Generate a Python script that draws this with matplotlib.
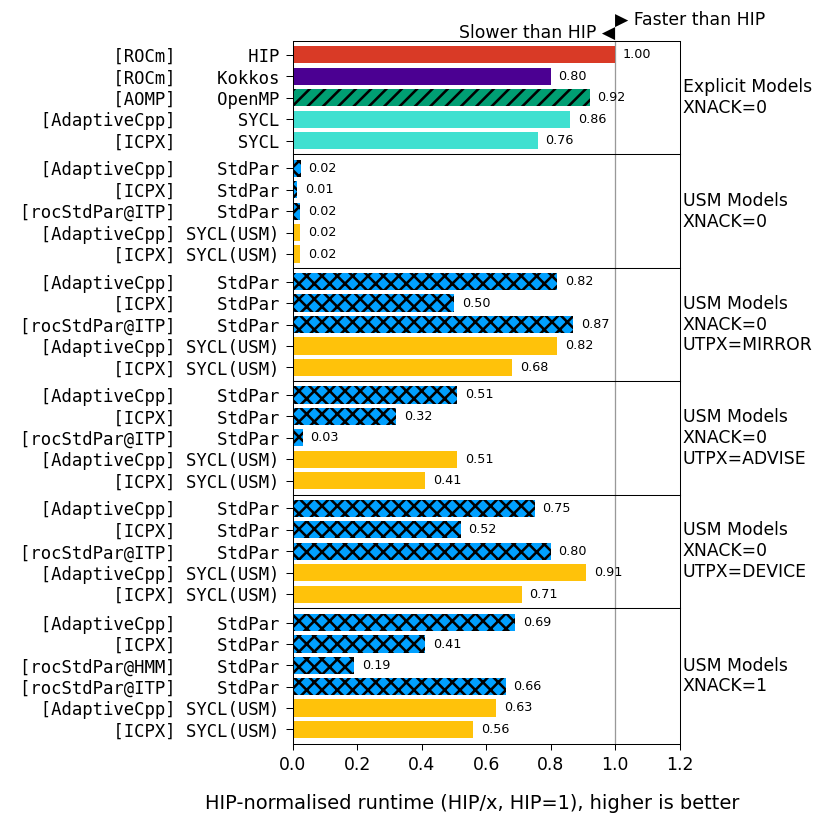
import matplotlib
matplotlib.use("Agg")
import matplotlib.pyplot as plt
from matplotlib.transforms import blended_transform_factory

# colours per model
c_hip = '#d93a26'
c_kokkos = '#4b0092'
c_omp = '#009e73'
c_sycl = '#40e0d0'
c_stdpar = '#00a0ff'
c_usm = '#ffc20a'

# panel 1: explicit models
p1_comp = ["[ROCm]", "[ROCm]", "[AOMP]", "[AdaptiveCpp]", "[ICPX]"]
p1_model = ["HIP", "Kokkos", "OpenMP", "SYCL", "SYCL"]
p1_vals = [1.00, 0.80, 0.92, 0.86, 0.76]

# panels 2-5: same five configs
usm_comp = ["[AdaptiveCpp]", "[ICPX]", "[rocStdPar@ITP]", "[AdaptiveCpp]", "[ICPX]"]
usm_model = ["StdPar", "StdPar", "StdPar", "SYCL(USM)", "SYCL(USM)"]
p2_vals = [0.024, 0.013, 0.022, 0.022, 0.022]
p3_vals = [0.82, 0.50, 0.87, 0.82, 0.68]
p4_vals = [0.51, 0.32, 0.03, 0.51, 0.41]
p5_vals = [0.75, 0.52, 0.80, 0.91, 0.71]

# panel 6: XNACK=1
p6_comp = ["[AdaptiveCpp]", "[ICPX]", "[rocStdPar@HMM]", "[rocStdPar@ITP]", "[AdaptiveCpp]", "[ICPX]"]
p6_model = ["StdPar", "StdPar", "StdPar", "StdPar", "SYCL(USM)", "SYCL(USM)"]
p6_vals = [0.69, 0.41, 0.19, 0.66, 0.63, 0.56]

panel_titles = ["Explicit Models\nXNACK=0",
                "USM Models\nXNACK=0",
                "USM Models\nXNACK=0\nUTPX=MIRROR",
                "USM Models\nXNACK=0\nUTPX=ADVISE",
                "USM Models\nXNACK=0\nUTPX=DEVICE",
                "USM Models\nXNACK=1"]

style = {
    "HIP": (c_hip, None),
    "Kokkos": (c_kokkos, None),
    "OpenMP": (c_omp, '//'),
    "SYCL": (c_sycl, None),
    "StdPar": (c_stdpar, 'xx'),
    "SYCL(USM)": (c_usm, None),
}

panels = [
    (p1_comp, p1_model, p1_vals),
    (usm_comp, usm_model, p2_vals),
    (usm_comp, usm_model, p3_vals),
    (usm_comp, usm_model, p4_vals),
    (usm_comp, usm_model, p5_vals),
    (p6_comp, p6_model, p6_vals),
]

plt.rcParams['font.size'] = 13.5
plt.rcParams['hatch.linewidth'] = 2.0
plt.rcParams['ytick.major.size'] = 5.5
plt.rcParams['ytick.major.pad'] = 5.5
plt.rcParams['xtick.major.size'] = 4.7
plt.rcParams['xtick.major.pad'] = 4.7

dpi = 92
fig = plt.figure(figsize=(830 / dpi, 829 / dpi), dpi=dpi)
gs = fig.add_gridspec(len(panels), 1, height_ratios=[len(p[2]) for p in panels],
                      hspace=0, left=0.353, right=0.819, top=0.9505, bottom=0.1025)

axes = []
for i, (comp, model, vals) in enumerate(panels):
    ax = fig.add_subplot(gs[i, 0], sharex=axes[0] if axes else None)
    axes.append(ax)
    ypos = list(range(len(vals)))
    colors = [style[m][0] for m in model]
    hatches = [style[m][1] for m in model]
    bars = ax.barh(ypos, vals, height=0.8, color=colors, edgecolor='black',
                   linewidth=0, hatch=hatches, zorder=2)
    ax.bar_label(bars, labels=[f"{v:.2f}" for v in vals], padding=6, fontsize=10)
    ax.axvline(1.0, color='#999999', lw=1, zorder=1)
    ax.set_yticks(ypos)
    ax.set_yticklabels([f"{c:>15} {m:>9}" for c, m in zip(comp, model)],
                       family='DejaVu Sans Mono')
    ax.invert_yaxis()
    ax.text(1.008, 0.5, panel_titles[i], transform=ax.transAxes,
            ha='left', va='center')
    if i < len(panels) - 1:
        ax.tick_params(axis='x', bottom=False, labelbottom=False)

axes[-1].set_xlim(0, 1.2)
axes[-1].set_xticks([0.0, 0.2, 0.4, 0.6, 0.8, 1.0, 1.2])

tr = blended_transform_factory(axes[0].transData, axes[0].transAxes)
axes[0].text(1.0, 1.07, "Slower than HIP \u25C0", transform=tr, ha='right', va='center')
axes[0].text(1.0, 1.19, "\u25B6 Faster than HIP", transform=tr, ha='left', va='center')

fig.text(472 / 830, 0.031, "HIP-normalised runtime (HIP/x, HIP=1), higher is better",
         ha='center', va='center', fontsize=15.2)

fig.savefig("out.png", dpi=dpi)
